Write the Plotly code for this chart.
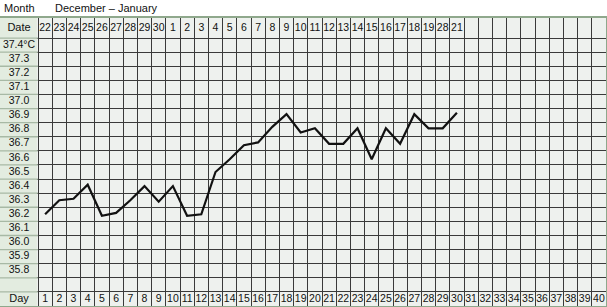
import plotly.graph_objects as go

# ---------------- data ----------------
days = list(range(1, 41))
date_labels = ["22", "23", "24", "25", "26", "27", "28", "29", "30",
               "1", "2", "3", "4", "5", "6", "7", "8", "9", "10", "11", "12",
               "13", "14", "15", "16", "17", "18", "19", "28", "21"] + [""] * 10
temp_rows = [37.4, 37.3, 37.2, 37.1, 37.0, 36.9, 36.8, 36.7, 36.6, 36.5,
             36.4, 36.3, 36.2, 36.1, 36.0, 35.9, 35.8]
temp_labels = ["37.4°C", "37.3", "37.2", "37.1", "37.0", "36.9", "36.8", "36.7",
               "36.6", "36.5", "36.4", "36.3", "36.2", "36.1", "36.0", "35.9", "35.8"]
temp_days = list(range(1, 31))
temps = [36.20, 36.30, 36.31, 36.41, 36.19, 36.21, 36.30, 36.40, 36.29, 36.40,
         36.19, 36.20, 36.50, 36.59, 36.69, 36.71, 36.82, 36.91, 36.78, 36.81,
         36.70, 36.70, 36.81, 36.59, 36.81, 36.70, 36.91, 36.81, 36.81, 36.92]
title_month = "Month"
title_range = "December – January"

# ---------------- geometry (axis units) ----------------
X_MIN = -2.176          # left edge of label column
X_MAX = 40.5
Y_TOP = 37.592          # top of Date row
Y_BOT = 35.55           # bottom of Day row
DATE_Y = (37.45 + Y_TOP) / 2
DAY_Y = 35.6
LABEL_X = (X_MIN + 0.5) / 2

row_lines = [round(37.45 - 0.1 * i, 2) for i in range(19)]   # 37.45 ... 35.65
col_lines = [d + 0.5 for d in range(0, 40)]                     # 0.5 ... 39.5

GRID = "#3a3a3a"
CELL_BG = "#eef1ee"
LABEL_BG = "#e3ece0"
LABEL_LINE = "#a8b9a5"
BORDER = "#8fa88c"
FONT = "Liberation Sans, Arial, sans-serif"
NARROW = "Liberation Sans Narrow, Arial Narrow, Liberation Sans, sans-serif"

fig = go.Figure()

# label-column row separators (lighter)
sx, sy = [], []
for y in row_lines:
    sx += [X_MIN, 0.5, None]
    sy += [y, y, None]
fig.add_trace(go.Scatter(x=sx, y=sy, mode="lines",
                         line=dict(color=LABEL_LINE, width=1.3),
                         hoverinfo="skip", showlegend=False))

# temperature labels
fig.add_trace(go.Scatter(x=[LABEL_X] * len(temp_rows), y=temp_rows, mode="text",
                         text=temp_labels, textposition="middle center",
                         textfont=dict(family=FONT, size=10.5, color="#111"),
                         hoverinfo="skip", showlegend=False))
# Date / Day labels
fig.add_trace(go.Scatter(x=[LABEL_X, LABEL_X], y=[DATE_Y, DAY_Y], mode="text",
                         text=["Date", "Day"], textposition="middle center",
                         textfont=dict(family=FONT, size=11, color="#111"),
                         hoverinfo="skip", showlegend=False))
# date numbers
fig.add_trace(go.Scatter(x=days, y=[DATE_Y] * len(days), mode="text",
                         text=date_labels, textposition="middle center",
                         textfont=dict(family=NARROW, size=10.5, color="#111"),
                         hoverinfo="skip", showlegend=False))
# day numbers
fig.add_trace(go.Scatter(x=days, y=[DAY_Y] * len(days), mode="text",
                         text=[str(d) for d in days], textposition="middle center",
                         textfont=dict(family=NARROW, size=10.5, color="#111"),
                         hoverinfo="skip", showlegend=False))

# temperature curve
fig.add_trace(go.Scatter(x=temp_days, y=temps, mode="lines",
                         line=dict(color="#111111", width=2.2),
                         hoverinfo="skip", showlegend=False))

fig.add_shape(type="rect", xref="x", yref="y", x0=X_MIN, x1=0.42,
              y0=Y_BOT, y1=Y_TOP, fillcolor=LABEL_BG, line=dict(width=0),
              layer="between")

fig.add_annotation(text=title_month, xref="paper", yref="paper", x=0.004, y=1.036,
                   xanchor="left", yanchor="middle", showarrow=False,
                   font=dict(family=FONT, size=11, color="#111"))
fig.add_annotation(text=title_range, xref="paper", yref="paper", x=0.087, y=1.036,
                   xanchor="left", yanchor="middle", showarrow=False,
                   font=dict(family=FONT, size=11, color="#111"))

fig.update_layout(
    width=607, height=307,
    margin=dict(l=0, r=1, t=18, b=1, pad=0),
    paper_bgcolor="white", plot_bgcolor=CELL_BG,
    xaxis=dict(range=[X_MIN, X_MAX], tickvals=col_lines, showticklabels=False,
               showgrid=True, gridcolor=GRID, gridwidth=1.4, zeroline=False,
               ticks="", showline=True, mirror=True, linecolor=BORDER, linewidth=1.5,
               fixedrange=True),
    yaxis=dict(range=[Y_BOT, Y_TOP], tickvals=row_lines, showticklabels=False,
               showgrid=True, gridcolor=GRID, gridwidth=1.4, zeroline=False,
               ticks="", showline=True, mirror=True, linecolor=BORDER, linewidth=1.5,
               fixedrange=True),
    showlegend=False,
)

fig.write_html("out.html")
